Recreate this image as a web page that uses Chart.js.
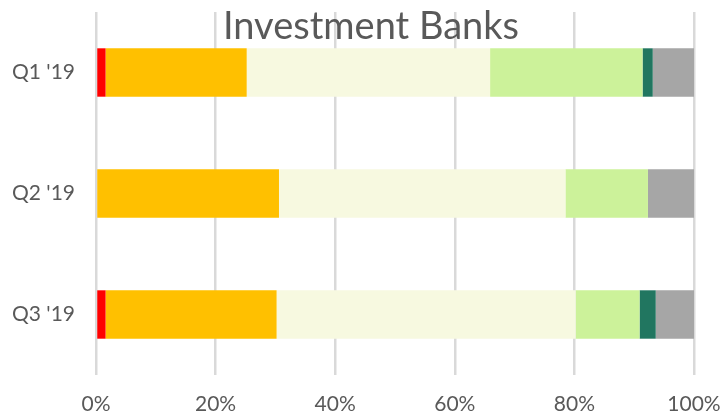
<!DOCTYPE html>
<html>
<head>
<meta charset="utf-8">
<script src="https://cdn.jsdelivr.net/npm/chart.js@4"></script>
<style>
  html, body { margin: 0; padding: 0; background: #fff; }
</style>
</head>
<body>
<canvas id="chart" width="721" height="416"></canvas>
<script>
// --- DONNÉES ---
const quarters = ["Q1 '19", "Q2 '19", "Q3 '19"];
const xTicks = [0, 20, 40, 60, 80, 100];
const redShare = [1.6, 0, 1.6];
const orangeShare = [23.6, 30.6, 28.6];
const creamShare = [40.7, 47.9, 50.0];
const lightGreenShare = [25.5, 13.8, 10.7];
const darkGreenShare = [1.7, 0, 2.7];
const greyShare = [6.9, 7.7, 6.4];

const series = [
  { data: redShare, color: '#FF0000' },
  { data: orangeShare, color: '#FFC000' },
  { data: creamShare, color: '#F7F9E0' },
  { data: lightGreenShare, color: '#CCF29A' },
  { data: darkGreenShare, color: '#217660' },
  { data: greyShare, color: '#A6A6A6' }
];

const FONT = "Lato, 'Open Sans', sans-serif";

// titre dessiné par-dessus la grille, comme dans l'original
const titlePlugin = {
  id: 'overTitle',
  afterDatasetsDraw(chart) {
    const c = chart.ctx;
    c.save();
    c.font = "38px Lato, sans-serif";
    c.fillStyle = '#595959';
    c.textAlign = 'center';
    c.textBaseline = 'alphabetic';
    c.fillText('Investment Banks', 371, 39);
    c.restore();
  }
};

new Chart(document.getElementById('chart'), {
  type: 'bar',
  data: {
    labels: quarters,
    datasets: series.map(s => ({
      data: s.data,
      backgroundColor: s.color,
      borderWidth: 0,
      barPercentage: 0.8,
      categoryPercentage: 0.5
    }))
  },
  options: {
    indexAxis: 'y',
    responsive: false,
    animation: false,
    events: [],
    layout: { padding: { top: 12, right: 27, left: 0, bottom: 0 } },
    plugins: { legend: { display: false }, tooltip: { enabled: false } },
    scales: {
      x: {
        stacked: true,
        min: 0,
        max: 100,
        afterBuildTicks: axis => { axis.ticks = xTicks.map(v => ({ value: v })); },
        afterFit: axis => {
          axis.height = 41;
          axis.paddingLeft = 0;
          axis.paddingRight = 0;
        },
        grid: { color: '#D9D9D9', lineWidth: 2.5, tickLength: 0 },
        border: { display: false },
        ticks: {
          callback: v => v + '%',
          color: '#595959',
          font: { family: FONT, size: 21 },
          maxRotation: 0,
          padding: 17
        }
      },
      y: {
        stacked: true,
        afterFit: axis => {
          axis.width = 96;
          axis.paddingTop = 0;
          axis.paddingBottom = 0;
        },
        grid: { display: false },
        border: { display: false },
        ticks: {
          color: '#595959',
          font: { family: FONT, size: 21 },
          padding: 13
        }
      }
    }
  },
  plugins: [titlePlugin]
});
</script>
</body>
</html>
